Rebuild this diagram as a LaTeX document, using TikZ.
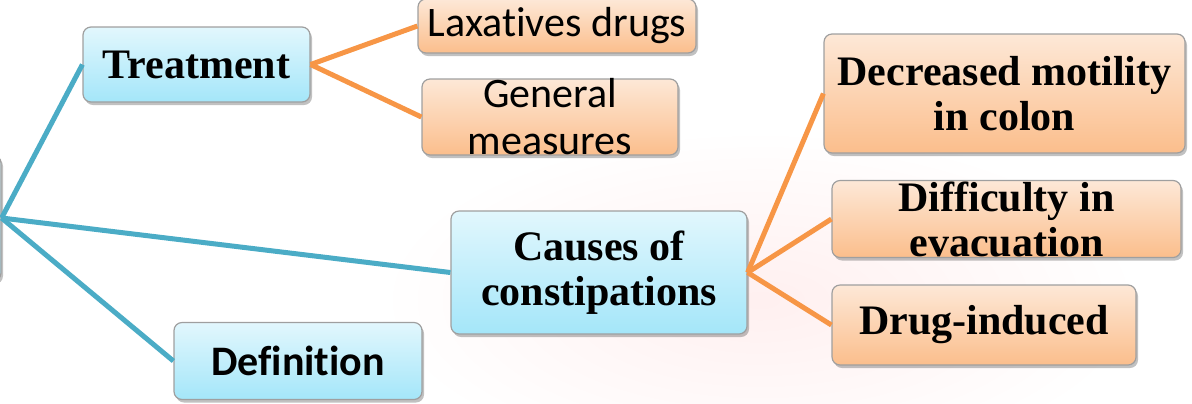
\documentclass[tikz,border=0pt]{standalone}
\usepackage{fontspec}
\setmainfont{Liberation Serif}
\newfontfamily\calib[Ligatures=NoCommon]{Carlito}
\usepackage{tikz}
\usetikzlibrary{shadows}
\definecolor{linkblue}{HTML}{4BACC6}
\definecolor{linkorange}{HTML}{F79646}
\definecolor{bluetop}{HTML}{E2F7FD}
\definecolor{bluebot}{HTML}{A4E6F9}
\definecolor{orgtop}{HTML}{FDE8D7}
\definecolor{orgbot}{HTML}{FBBE8C}
\tikzset{
  basebox/.style={draw=gray!75, line width=0.6pt, rounded corners=4pt, inner sep=0pt,
    align=center, drop shadow={shadow xshift=1pt, shadow yshift=-1.5pt, opacity=0.35, fill=black!70}},
  blubox/.style={basebox, top color=bluetop, bottom color=bluebot},
  orgbox/.style={basebox, top color=orgtop, bottom color=orgbot},
  serifb/.style={font=\fontsize{21}{22.5}\selectfont\bfseries},
  sansr/.style={font=\fontsize{21}{23.5}\selectfont\calib},
  sansb/.style={font=\fontsize{21}{23.5}\selectfont\calib\bfseries},
  bluelink/.style={linkblue, line width=2.5pt},
  orglink/.style={linkorange, line width=2.5pt}
}
\begin{document}
\begin{tikzpicture}[x=0.5pt,y=-0.5pt]
\useasboundingbox (0,0) rectangle (1192,403);
\clip (0,0) rectangle (1192,403);
\shade[inner color=red!6, outer color=white] (760,300) ellipse (380 and 170);
\node[blubox, minimum width=103pt, minimum height=63pt] (root) at (-102,218) {};
\node[blubox, serifb, minimum width=113.5pt, minimum height=37.5pt] (treat) at (196.5,64.5) {Treatment};
\node[blubox, sansb, minimum width=124pt, minimum height=38.5pt] (defin) at (298,361) {Definition};
\node[blubox, serifb, minimum width=148pt, minimum height=61.5pt] (cause) at (599,272.5) {Causes of\\constipations};
\node[orgbox, sansr, minimum width=139pt, minimum height=27pt] (lax) at (557,26) {Laxatives drugs};
\node[orgbox, minimum width=128pt, minimum height=38pt,
  label={[sansr, align=center]center:General\\measures}] (gen) at (550,117) {};
\node[orgbox, serifb, minimum width=180.5pt, minimum height=59.5pt] (decr) at (1004.5,93.5) {Decreased motility\\in colon};
\node[orgbox, minimum width=174.5pt, minimum height=38.5pt,
  label={[serifb, align=center]center:Difficulty in\\evacuation}] (diff) at (1006.5,219) {};
\node[orgbox, serifb, minimum width=152pt, minimum height=40pt] (drug) at (984,325) {Drug-induced};
\draw[bluelink] (root.east) -- (treat.west);
\draw[bluelink] (root.east) -- (cause.west);
\draw[bluelink] (root.east) -- (defin.west);
\draw[orglink] (treat.east) -- (lax.west);
\draw[orglink] (treat.east) -- (gen.west);
\draw[orglink] (cause.east) -- (decr.west);
\draw[orglink] (cause.east) -- (diff.west);
\draw[orglink] (cause.east) -- (drug.west);
\end{tikzpicture}
\end{document}
